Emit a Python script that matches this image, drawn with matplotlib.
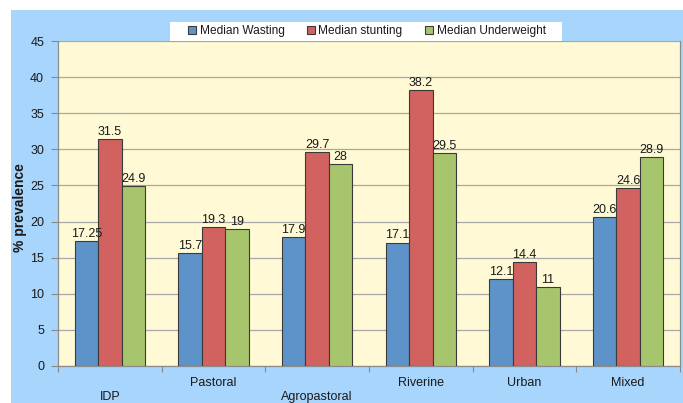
import matplotlib
matplotlib.use("Agg")
import matplotlib.pyplot as plt
from matplotlib.patches import Rectangle
import numpy as np

plt.rcParams['font.family'] = ['Liberation Sans', 'DejaVu Sans']

categories = ["IDP", "Pastoral", "Agropastoral", "Riverine", "Urban", "Mixed"]
series_names = ["Median Wasting", "Median stunting", "Median Underweight"]
wasting = [17.25, 15.7, 17.9, 17.1, 12.1, 20.6]
stunting = [31.5, 19.3, 29.7, 38.2, 14.4, 24.6]
underweight = [24.9, 19, 28, 29.5, 11, 28.9]
value_labels = [
    ["17.25", "15.7", "17.9", "17.1", "12.1", "20.6"],
    ["31.5", "19.3", "29.7", "38.2", "14.4", "24.6"],
    ["24.9", "19", "28", "29.5", "11", "28.9"],
]
yticks = [0, 5, 10, 15, 20, 25, 30, 35, 40, 45]
colors = ["#5E93C9", "#D2625F", "#A7C56C"]

W, H = 683, 403
fig = plt.figure(figsize=(W / 100, H / 100), dpi=100)
fig.patch.set_facecolor("white")
# light blue chart area with a thin white margin at top and left
fig.patches.append(Rectangle((11 / W, 0), 1, (H - 10) / H, transform=fig.transFigure,
                             facecolor="#A8D5FC", edgecolor="none", zorder=-10))

ax = fig.add_axes([58 / W, 1 - 366 / H, (680 - 58) / W, (366 - 41) / H])
ax.set_facecolor("#FFFAD5")

x = np.arange(len(categories))
bw = 0.227
for i, (vals, col) in enumerate(zip([wasting, stunting, underweight], colors)):
    pos = x + (i - 1) * bw
    ax.bar(pos, vals, width=bw, color=col, edgecolor="#3A3A3A", linewidth=0.8,
           label=series_names[i], zorder=3)
    for xp, v, lab in zip(pos, vals, value_labels[i]):
        ax.annotate(lab, (xp, v), xytext=(0, 4), textcoords="offset pixels",
                    ha="center", va="baseline", fontsize=9, color="#1A1A1A", zorder=4)

ax.set_xlim(-0.5, len(categories) - 0.5)
ax.set_ylim(0, 45)
ax.set_yticks(yticks)
ax.set_yticklabels([str(t) for t in yticks], fontsize=9, color="#1A1A1A")
ax.yaxis.grid(True, color="#A6A6A6", linewidth=0.9, zorder=0)
ax.set_axisbelow(True)
ax.tick_params(axis="y", length=5, width=0.8, color="#888888", pad=5)

# category boundary ticks, labels drawn separately (staggered)
ax.set_xticks(np.arange(-0.5, len(categories), 1.0))
ax.set_xticklabels([])
ax.tick_params(axis="x", length=4, width=0.8, color="#888888")
for k, cat in enumerate(categories):
    off = -31 if k in (0, 2) else -17
    ax.annotate(cat, (k, 0), xycoords=("data", "axes fraction"), xytext=(0, off),
                textcoords="offset pixels", ha="center", va="center",
                fontsize=9, color="#1A1A1A", annotation_clip=False)

for side in ["left", "bottom", "right"]:
    ax.spines[side].set_color("#8C8C8C")
    ax.spines[side].set_linewidth(0.9)
ax.spines["top"].set_visible(False)

fig.text(20 / W, 1 - 208 / H, "% prevalence", rotation=90, ha="center", va="center",
         fontsize=10, fontweight="bold", color="#1A1A1A")

# white legend band across the top of the plot area
fig.patches.append(Rectangle((170 / W, 1 - 41 / H), (562 - 170) / W, 19 / H,
                             transform=fig.transFigure, facecolor="white",
                             edgecolor="none", zorder=5))
leg = fig.legend(loc="center", bbox_to_anchor=(367 / W, 1 - 31 / H), ncol=3,
                 fontsize=8.6, frameon=False, handlelength=0.65,
                 handleheight=0.65, handletextpad=0.3, columnspacing=1.9,
                 borderpad=0.2, borderaxespad=0)
leg.set_zorder(10)
for t in leg.get_texts():
    t.set_color("#1A1A1A")

fig.savefig("out.png", dpi=100, facecolor=fig.get_facecolor())
